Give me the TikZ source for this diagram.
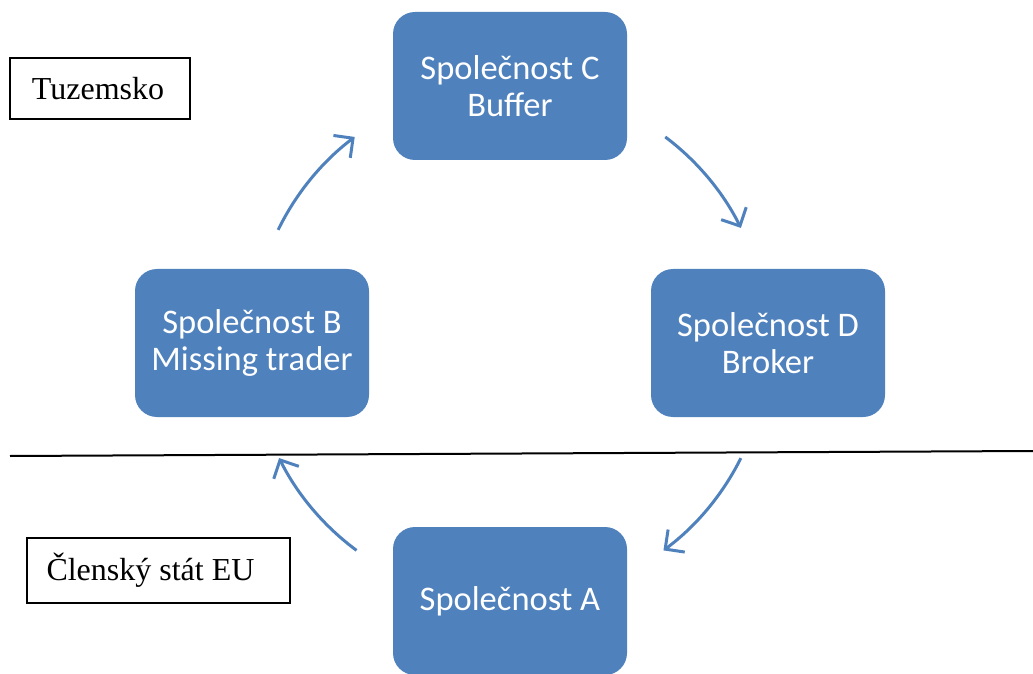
\documentclass[tikz,border=0pt]{standalone}
\usepackage{fontspec}
\setmainfont{Liberation Serif}
\newfontfamily\boxfont{Carlito}
\usetikzlibrary{arrows.meta,calc}
\definecolor{boxblue}{HTML}{4F81BD}
\tikzset{
  company/.style={fill=boxblue, draw=none, rounded corners=22pt, minimum width=234pt, minimum height=148pt,
    text=white, align=center, font=\boxfont\fontsize{34.5}{37}\selectfont},
  region/.style={draw=black, line width=1.5pt, font=\fontsize{32}{34}\selectfont, inner sep=0pt},
  flow/.style={draw=boxblue, line width=3pt, -{Straight Barb[length=14pt, width=28pt, line width=3pt]}}
}
\begin{document}
\begin{tikzpicture}[x=1pt,y=1pt]
\useasboundingbox (0,0) rectangle (1033,673);
\begin{scope}
\clip (0,0) rectangle (1033,673);
\node[company] (C) at (510,587) {Společnost C\\Buffer};
\node[company] (B) at (252,330) {Společnost B\\Missing trader};
\node[company] (D) at (768,330) {Společnost D\\Broker};
\node[company] (A) at (510,72) {Společnost A};
\end{scope}
\node[region, minimum width=180pt, minimum height=61pt] (T) at (100,584.5) {Tuzemsko\hspace*{4pt}};
\node[region, minimum width=263pt, minimum height=65pt] (E) at (158.5,102.5) {Členský stát EU\hspace*{16pt}};
\coordinate (L1) at (10,217);
\coordinate (L2) at (1033,222);
\draw[line width=2pt] (L1) -- (L2);
\coordinate (O) at (510,330);
\coordinate (s1) at ($(O)+(154:258)$);
\coordinate (s2) at ($(O)+(53:258)$);
\coordinate (s3) at ($(O)+(-26.5:258)$);
\coordinate (s4) at ($(O)+(-126.5:258)$);
\draw[flow] (s1) arc[start angle=154, end angle=127, radius=258];
\draw[flow] (s2) arc[start angle=53, end angle=26.5, radius=258];
\draw[flow] (s3) arc[start angle=-26.5, end angle=-53.5, radius=258];
\draw[flow] (s4) arc[start angle=-126.5, end angle=-153.5, radius=258];
\end{tikzpicture}
\end{document}
